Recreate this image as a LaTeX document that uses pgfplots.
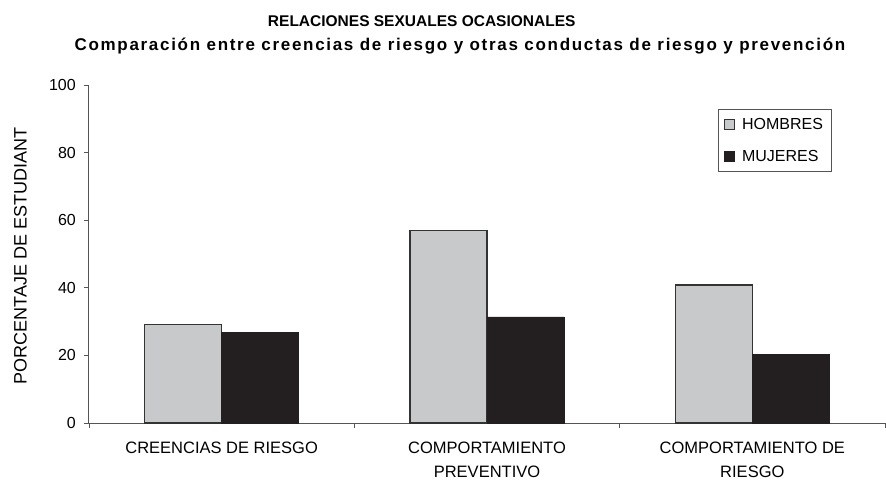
\documentclass[border=0pt]{standalone}
\usepackage{fontspec}
\setmainfont{Liberation Sans}
\newfontfamily\spacedbold[LetterSpace=10]{Liberation Sans}
\usepackage{pgfplots}
\pgfplotsset{compat=1.18}
\definecolor{hgray}{HTML}{C8C9CB}
\definecolor{mdark}{HTML}{231F20}
\definecolor{axgray}{HTML}{555555}
\begin{document}
\begin{tikzpicture}
\useasboundingbox (-89pt,-62pt) rectangle (797pt,423pt);
\begin{axis}[
  at={(0,0)}, anchor=south west,
  scale only axis, width=796pt, height=338pt,
  xmin=-0.5, xmax=2.5, ymin=0, ymax=100,
  axis x line=bottom, axis y line=left,
  axis line style={-, draw=axgray, line width=1pt},
  every tick/.style={draw=axgray, line width=0.8pt},
  tick align=outside, major tick length=5pt,
  ytick={0,20,40,60,80,100},
  /pgf/number format/assume math mode=true,
  yticklabel style={font=\fontsize{16}{18}\selectfont, inner sep=0pt, xshift=-8pt},
  xtick={-0.5,0.5,1.5,2.5}, xticklabels={},
  extra x ticks={0,1,2},
  extra x tick labels={{CREENCIAS DE RIESGO},{COMPORTAMIENTO\\PREVENTIVO},{COMPORTAMIENTO DE\\RIESGO}},
  extra x tick style={major tick length=0pt,
    tick label style={align=center, font=\fontsize{16.5}{24}\selectfont, inner sep=0pt, yshift=-19pt}},
  ylabel={PORCENTAJE DE ESTUDIANT},
  ylabel style={at={(axis description cs:-0.0861,0.494)}, anchor=center, font=\fontsize{18}{20}\selectfont},
  ybar=0pt, bar width=0.29,
  legend style={at={(0.790,0.929)}, anchor=north west, draw=axgray, line width=0.8pt, fill=white,
    font=\fontsize{16}{18}\selectfont, inner xsep=6pt, inner ysep=7pt, row sep=15pt,
    cells={anchor=west}, /tikz/every odd column/.append style={column sep=5pt}},
  legend image code/.code={\draw[#1, line width=0.8pt] (0pt,-5pt) rectangle (10pt,5pt);},
  clip=false,
]
\addplot[draw=black!80, line width=1.2pt, fill=hgray, bar shift=-0.145] coordinates {(0,29.2) (1,57.0) (2,40.8)};
\addplot[draw=mdark, line width=0.6pt, fill=mdark, bar shift=0.145] coordinates {(0,26.9) (1,31.4) (2,20.3)};
\legend{HOMBRES, MUJERES}
\node[anchor=base, font=\bfseries\fontsize{15.5}{17}\selectfont] at (axis description cs:0.418,1.1716) {RELACIONES SEXUALES OCASIONALES};
\node[anchor=base, font=\spacedbold\bfseries\fontsize{17}{19}\selectfont] at (axis description cs:0.466,1.1006) {Comparación entre creencias de riesgo y otras conductas de riesgo y prevención};
\end{axis}
\end{tikzpicture}
\end{document}
